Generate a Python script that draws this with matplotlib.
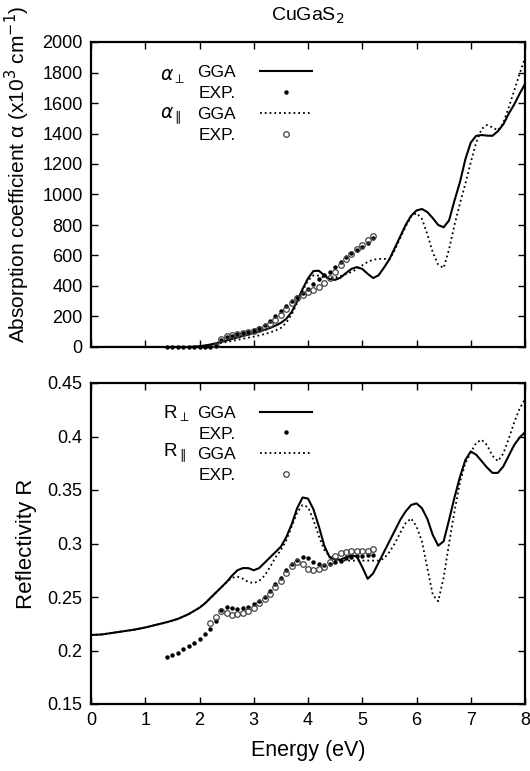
import matplotlib
matplotlib.use("Agg")
import matplotlib.pyplot as plt
from matplotlib.ticker import FixedLocator

plt.rcParams['font.family'] = ['Liberation Sans', 'DejaVu Sans']
plt.rcParams['mathtext.fontset'] = 'dejavusans'

# ---------------- data ----------------
title = "CuGaS$_2$"
x_label = "Energy (eV)"
y_label_top = "Absorption coefficient \u03b1 (x10$^3$ cm$^{-1}$)"
y_label_bot = "Reflectivity R"

# GGA energies
E_gga = [0.0, 0.2, 0.4, 0.6, 0.8, 1.0, 1.2, 1.4, 1.6, 1.8, 1.9, 2.0, 2.1, 2.2, 2.3, 2.4,
         2.5, 2.6, 2.7, 2.8, 2.9, 3.0, 3.1, 3.2, 3.3, 3.4, 3.5, 3.6, 3.7, 3.8, 3.9, 4.0,
         4.1, 4.2, 4.3, 4.4, 4.5, 4.6, 4.7, 4.8, 4.9, 5.0, 5.1, 5.2, 5.3, 5.4, 5.5, 5.6,
         5.7, 5.8, 5.9, 6.0, 6.1, 6.2, 6.3, 6.4, 6.5, 6.6, 6.7, 6.8, 6.9, 7.0, 7.1, 7.2,
         7.3, 7.4, 7.5, 7.6, 7.7, 7.8, 7.9, 8.0]

alpha_perp_gga = [0, 0, 0, 0, 0, 0, 0, 0, 0, 0, 2, 5, 10, 16, 24, 33,
                  43, 53, 63, 72, 82, 92, 102, 113, 125, 140, 158, 185, 230, 300, 380, 450,
                  498, 500, 470, 445, 440, 455, 485, 512, 524, 512, 480, 452, 470, 520, 575, 650,
                  725, 800, 860, 895, 905, 885, 845, 800, 785, 830, 960, 1080, 1230, 1340, 1385, 1390,
                  1386, 1385, 1415, 1460, 1530, 1590, 1660, 1725]

alpha_par_gga = [0, 0, 0, 0, 0, 0, 0, 0, 0, 0, 2, 4, 8, 13, 19, 26,
                 33, 40, 47, 54, 61, 68, 76, 85, 95, 108, 125, 160, 215, 290, 370, 435,
                 470, 468, 455, 450, 455, 465, 478, 492, 510, 535, 558, 572, 578, 578, 574, 635,
                 715, 790, 855, 878, 840, 740, 620, 540, 518, 640, 800, 940, 1070, 1210, 1340, 1430,
                 1456, 1440, 1420, 1470, 1570, 1680, 1790, 1895]

R_perp_gga = [0.2145, 0.215, 0.2165, 0.218, 0.2195, 0.2215, 0.224, 0.2265, 0.2295, 0.234, 0.237, 0.240, 0.244, 0.249, 0.254, 0.259,
              0.264, 0.270, 0.275, 0.277, 0.277, 0.275, 0.277, 0.282, 0.287, 0.292, 0.297, 0.306, 0.318, 0.333, 0.343, 0.342,
              0.332, 0.316, 0.298, 0.287, 0.285, 0.285, 0.287, 0.289, 0.288, 0.278, 0.267, 0.272, 0.282, 0.292, 0.302, 0.312,
              0.322, 0.330, 0.336, 0.3375, 0.333, 0.323, 0.308, 0.298, 0.302, 0.322, 0.343, 0.362, 0.378, 0.386, 0.383, 0.377,
              0.371, 0.366, 0.366, 0.372, 0.382, 0.392, 0.399, 0.404]

R_par_gga = [0.2145, 0.215, 0.2165, 0.218, 0.2195, 0.2215, 0.224, 0.2265, 0.2295, 0.234, 0.237, 0.240, 0.244, 0.249, 0.254, 0.259,
             0.264, 0.268, 0.269, 0.267, 0.264, 0.263, 0.265, 0.270, 0.278, 0.287, 0.294, 0.303, 0.316, 0.329, 0.336, 0.334,
             0.322, 0.307, 0.294, 0.288, 0.285, 0.284, 0.284, 0.284, 0.284, 0.284, 0.284, 0.284, 0.284, 0.286, 0.292, 0.300,
             0.310, 0.319, 0.3235, 0.316, 0.302, 0.277, 0.252, 0.246, 0.268, 0.300, 0.330, 0.357, 0.375, 0.385, 0.394, 0.397,
             0.392, 0.382, 0.377, 0.384, 0.398, 0.413, 0.426, 0.435]

# experimental absorption
E_exp_a_perp = [1.4, 1.5, 1.6, 1.7, 1.8, 1.9, 2.0, 2.1, 2.2, 2.3, 2.4, 2.5, 2.6, 2.7, 2.8, 2.9, 3.0,
                3.1, 3.2, 3.3, 3.4, 3.5, 3.6, 3.7, 3.8, 3.9, 4.0, 4.1, 4.2, 4.3, 4.4, 4.5, 4.6,
                4.7, 4.8, 4.9, 5.0, 5.1, 5.2]
alpha_perp_exp = [0, 0, 0, 0, 0, 0, 0, 0, 2, 8, 45, 65, 75, 83, 90, 100, 110,
                  125, 145, 170, 200, 235, 270, 300, 330, 355, 380, 415, 445, 470, 492, 525, 558,
                  588, 614, 635, 655, 685, 713]

E_exp_a_par = [2.3, 2.4, 2.5, 2.6, 2.7, 2.8, 2.9, 3.0, 3.1, 3.2, 3.3, 3.4, 3.5, 3.6, 3.7, 3.8,
               3.9, 4.0, 4.1, 4.2, 4.3, 4.4, 4.5, 4.6, 4.7, 4.8, 4.9, 5.0, 5.1, 5.2]
alpha_par_exp = [5, 55, 72, 80, 87, 93, 100, 108, 118, 130, 148, 175, 210, 250, 290, 320,
                 340, 360, 375, 395, 420, 450, 490, 540, 580, 610, 645, 670, 700, 730]

# experimental reflectivity
E_exp_R_perp = [1.4, 1.5, 1.6, 1.7, 1.8, 1.9, 2.0, 2.1, 2.2, 2.3, 2.4, 2.5, 2.6, 2.7, 2.8, 2.9, 3.0,
                3.1, 3.2, 3.3, 3.4, 3.5, 3.6, 3.7, 3.8, 3.9, 4.0, 4.1, 4.2, 4.3, 4.4, 4.5, 4.6,
                4.7, 4.8, 4.9, 5.0, 5.1, 5.2]
R_perp_exp = [0.194, 0.196, 0.198, 0.201, 0.204, 0.207, 0.211, 0.215, 0.220, 0.228, 0.238, 0.241, 0.240, 0.239, 0.240, 0.241, 0.243,
              0.246, 0.250, 0.256, 0.262, 0.268, 0.275, 0.281, 0.285, 0.287, 0.286, 0.283, 0.281, 0.280, 0.281, 0.283, 0.284,
              0.286, 0.287, 0.288, 0.288, 0.289, 0.289]

E_exp_R_par = [2.2, 2.3, 2.4, 2.5, 2.6, 2.7, 2.8, 2.9, 3.0, 3.1, 3.2, 3.3, 3.4, 3.5, 3.6, 3.7,
               3.8, 3.9, 4.0, 4.1, 4.2, 4.3, 4.4, 4.5, 4.6, 4.7, 4.8, 4.9, 5.0, 5.1, 5.2]
R_par_exp = [0.226, 0.231, 0.237, 0.235, 0.233, 0.234, 0.235, 0.237, 0.240, 0.244, 0.248, 0.253, 0.259, 0.265, 0.272, 0.279,
             0.283, 0.281, 0.276, 0.275, 0.276, 0.278, 0.283, 0.288, 0.291, 0.292, 0.293, 0.293, 0.293, 0.293, 0.295]

x_ticks = [0, 1, 2, 3, 4, 5, 6, 7, 8]
y_ticks_top = [0, 200, 400, 600, 800, 1000, 1200, 1400, 1600, 1800, 2000]
y_ticks_bot = [0.15, 0.2, 0.25, 0.3, 0.35, 0.4, 0.45]
y_ticklabels_bot = ["0.15", "0.2", "0.25", "0.3", "0.35", "0.4", "0.45"]

# ---------------- figure ----------------
W, H = 530, 771
fig = plt.figure(figsize=(W / 100, H / 100), dpi=100)

def frac(l, t, r, b):
    return [l / W, 1 - b / H, (r - l) / W, (b - t) / H]

ax1 = fig.add_axes(frac(91, 42, 525, 347))
ax2 = fig.add_axes(frac(91, 383, 525, 704))

FS = 13
LFS = 12.5
for ax in (ax1, ax2):
    ax.set_xlim(0, 8)
    ax.xaxis.set_major_locator(FixedLocator(x_ticks))
    ax.tick_params(direction='in', top=True, right=True, length=5, width=1.0,
                   labelsize=FS, pad=6)
    for s in ax.spines.values():
        s.set_linewidth(1.6)

lw = 1.5
# top panel
l1, = ax1.plot(E_gga, alpha_perp_gga, '-', color='black', lw=lw)
m1, = ax1.plot(E_exp_a_perp, alpha_perp_exp, 'o', color='black', ms=3.2, mew=0,
               zorder=3, clip_on=False)
l2, = ax1.plot(E_gga, alpha_par_gga, ':', color='black', lw=1.3)
m2, = ax1.plot(E_exp_a_par, alpha_par_exp, 'o', mfc='none', mec='#444444', ms=4, mew=0.9,
               zorder=3)
ax1.set_ylim(0, 2000)
ax1.yaxis.set_major_locator(FixedLocator(y_ticks_top))
ax1.tick_params(labelbottom=False)
ax1.set_ylabel(y_label_top, fontsize=15)
ax1.yaxis.set_label_coords(-0.135, 0.565)
ax1.set_title(title, fontsize=14, pad=15)

leg1 = ax1.legend([l1, m1, l2, m2], ["GGA", "EXP.", "GGA", "EXP."], loc='upper left',
                  bbox_to_anchor=(0.244, 0.925), frameon=False, markerfirst=False,
                  fontsize=LFS, handlelength=3.0, handletextpad=1.4, labelspacing=0.33,
                  borderpad=0, borderaxespad=0)
ax1.text(0.16, 0.885, r"$\alpha_{\perp}$", transform=ax1.transAxes, fontsize=LFS + 1, va='center')
ax1.text(0.16, 0.757, r"$\alpha_{\parallel}$", transform=ax1.transAxes, fontsize=LFS + 1, va='center')

# bottom panel
l3, = ax2.plot(E_gga, R_perp_gga, '-', color='black', lw=lw)
m3, = ax2.plot(E_exp_R_perp, R_perp_exp, 'o', color='black', ms=3.2, mew=0, zorder=3)
l4, = ax2.plot(E_gga, R_par_gga, ':', color='black', lw=1.3)
m4, = ax2.plot(E_exp_R_par, R_par_exp, 'o', mfc='none', mec='#444444', ms=4, mew=0.9, zorder=3)
ax2.set_ylim(0.15, 0.45)
ax2.yaxis.set_major_locator(FixedLocator(y_ticks_bot))
ax2.set_yticklabels(y_ticklabels_bot)
ax2.set_xticklabels([str(t) for t in x_ticks])
ax2.set_xlabel(x_label, fontsize=15.5, labelpad=8)
ax2.set_ylabel(y_label_bot, fontsize=16, labelpad=8)

leg2 = ax2.legend([l3, m3, l4, m4], ["GGA", "EXP.", "GGA", "EXP."], loc='upper left',
                  bbox_to_anchor=(0.244, 0.93), frameon=False, markerfirst=False,
                  fontsize=LFS, handlelength=3.0, handletextpad=1.4, labelspacing=0.33,
                  borderpad=0, borderaxespad=0)
ax2.text(0.165, 0.905, r"R$_{\perp}$", transform=ax2.transAxes, fontsize=LFS + 1, va='center')
ax2.text(0.165, 0.78, r"R$_{\parallel}$", transform=ax2.transAxes, fontsize=LFS + 1, va='center')

fig.savefig("out.png", dpi=100)
